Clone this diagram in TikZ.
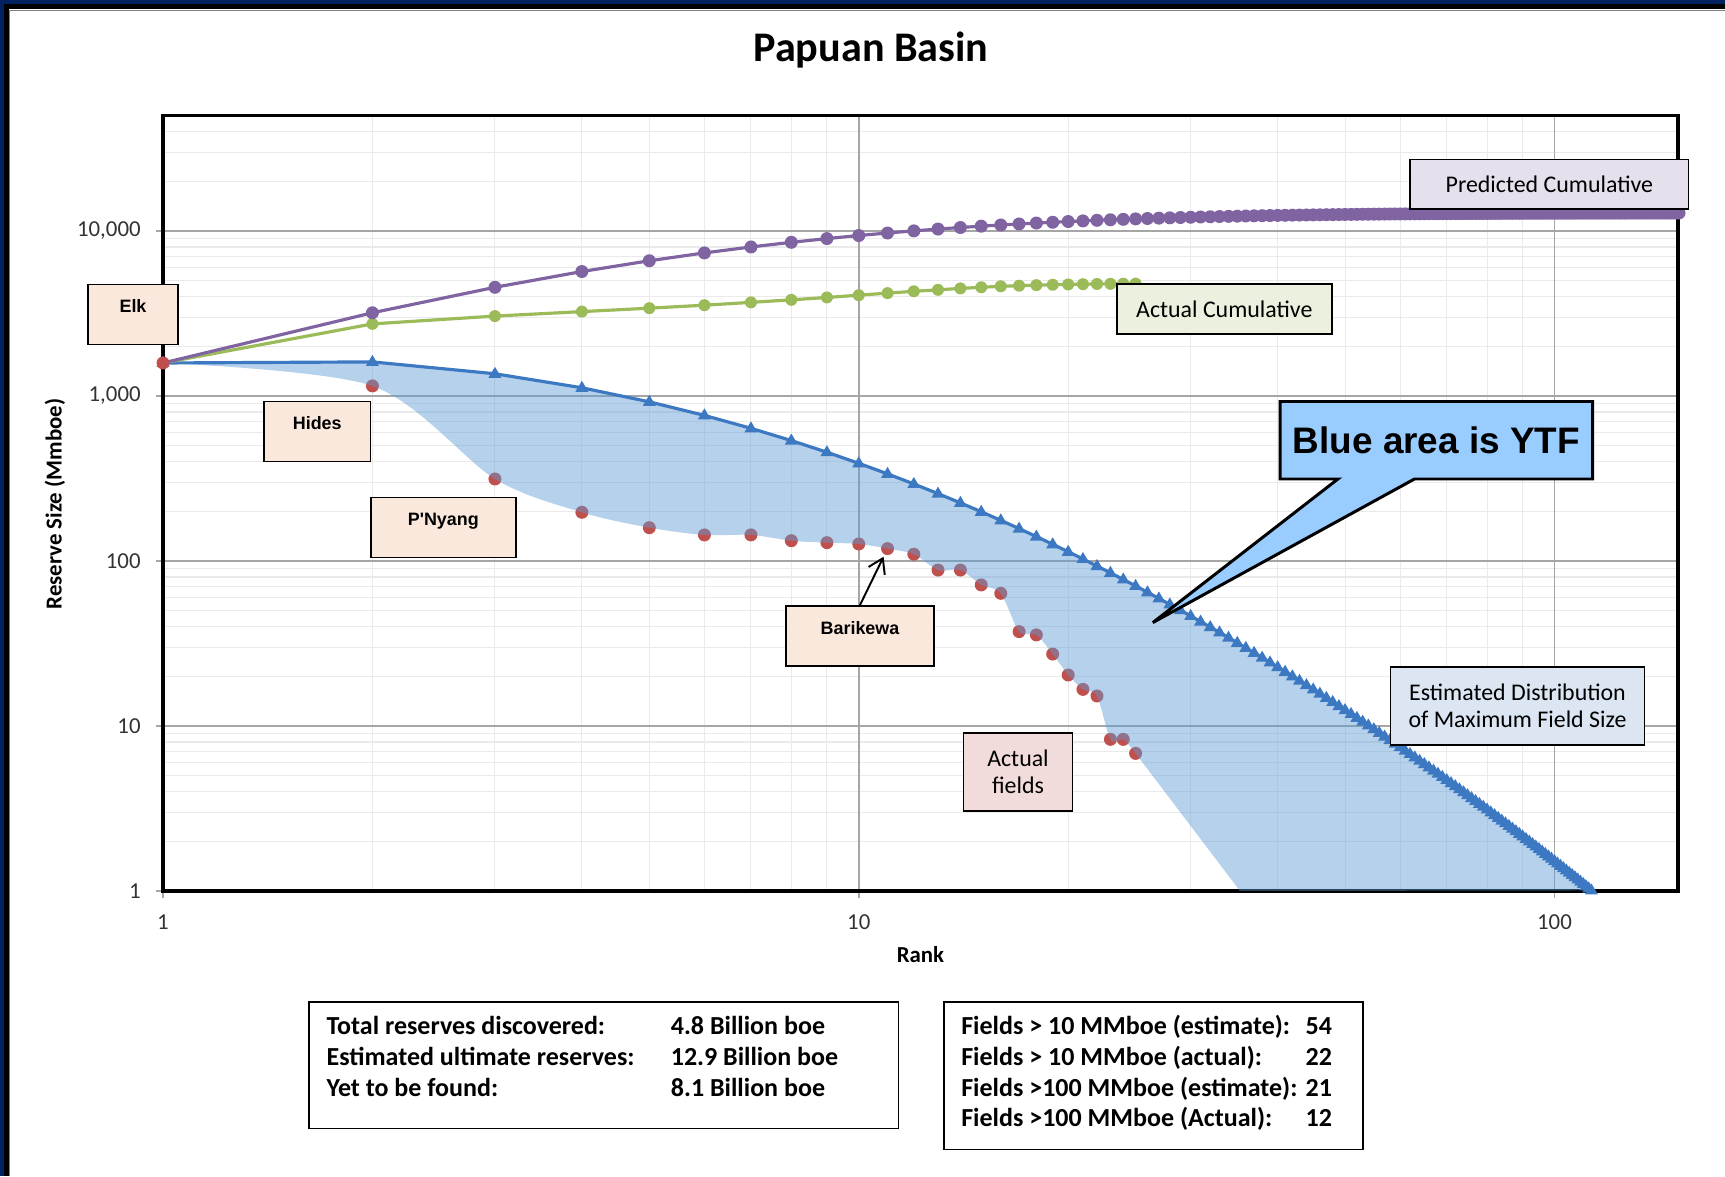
\documentclass[tikz,border=0pt]{standalone}
\usepackage{fontspec}
\setmainfont{Carlito}
\newfontfamily\arialfont{Liberation Sans}
\usepackage{tikz}
\usetikzlibrary{positioning}
\usetikzlibrary{arrows.meta,shapes.callouts}
\definecolor{navy}{RGB}{0,32,96}
\definecolor{minorgray}{RGB}{234,234,234}
\definecolor{majorgray}{RGB}{166,166,166}
\definecolor{predpurple}{RGB}{128,100,162}
\definecolor{actgreen}{RGB}{155,187,89}
\definecolor{fieldred}{RGB}{192,80,77}
\definecolor{distblue}{RGB}{61,121,194}
\definecolor{areablue}{RGB}{91,155,213}
\definecolor{peach}{RGB}{251,232,221}
\definecolor{pinkbox}{RGB}{242,220,219}
\definecolor{greenbox}{RGB}{235,241,222}
\definecolor{purplebox}{RGB}{229,224,236}
\definecolor{bluebox}{RGB}{220,230,242}
\definecolor{calloutblue}{RGB}{153,204,255}
\tikzstyle{gridminor} = [draw,minorgray,line width=0.6pt]
\tikzstyle{gridmajor} = [draw,majorgray,line width=0.9pt]
\tikzstyle{tickmark} = [draw,majorgray,line width=0.9pt]
\tikzstyle{plotframe} = [draw,black,line width=2.2pt]
\tikzstyle{ticklabel} = [text=black!80,font=\fontsize{13pt}{15pt}\selectfont,inner sep=0pt]
\tikzstyle{axistitle} = [font=\bfseries\fontsize{13pt}{15pt}\selectfont]
\tikzstyle{charttitle} = [font=\bfseries\fontsize{24pt}{28pt}\selectfont]
\tikzstyle{serieline} = [draw,line width=1.8pt]
\tikzstyle{fieldbox} = [draw,line width=1.1pt,fill=peach,font=\arialfont\bfseries\fontsize{10.2pt}{12pt}\selectfont,inner ysep=0pt,text height=0.57cm,text depth=0.63cm]
\tikzstyle{labelbox} = [draw,line width=1.1pt,align=center,font=\fontsize{13.6pt}{15.4pt}\selectfont]
\tikzstyle{infobox} = [draw,line width=1.1pt,anchor=north west,inner xsep=0.352cm,inner ysep=0.22cm,font=\bfseries\fontsize{14.8pt}{17.5pt}\selectfont]
\tikzstyle{pointer} = [draw,line width=1.1pt,-{Straight Barb[length=0.28cm,width=0.36cm]},shorten >=0.18cm]
\def\fieldlist{1/3.2,2/3.061,3/2.497,4/2.295,5/2.202,6/2.158,7/2.158,8/2.123,9/2.111,10/2.103,11/2.075,12/2.041,13/1.945,14/1.945,15/1.855,16/1.804,17/1.572,18/1.552,19/1.436,20/1.309,21/1.222,22/1.182,23/0.919,24/0.919,25/0.834}

\begin{document}
\begin{tikzpicture}[declare function={ffs(\x)=3.2+0.2933*\x-0.9013*\x*\x;}]
\useasboundingbox (0,0) rectangle (34.5,23.52);
\fill[white] (0,0) rectangle (34.5,23.52);

% slide frame
\fill[navy] (0,23.43) rectangle (34.5,23.52);
\fill[black] (0,23.33) rectangle (34.5,23.43);
\fill[navy] (0,0) rectangle (0.08,23.52);
\fill[black] (0.08,0) rectangle (0.18,23.33);
\draw[gray,line width=0.5pt] (0.19,0) -- (0.19,23.32) -- (34.5,23.32);

\node[charttitle] (title) at (17.42,22.51) {Papuan Basin};

\begin{scope}[shift={(3.26,5.70)}, x=13.915cm, y=3.3cm]
  \coordinate (plotSW) at (0,0);
  \coordinate (plotNE) at (2.1775,4.70);

  % grid
  \foreach \d/\kmax in {0/9,1/9,2/9,3/9,4/5}
    \foreach \k in {2,...,\kmax}
      \path[gridminor] (0,{\d+log10(\k)}) -- (2.1775,{\d+log10(\k)});
  \foreach \d in {0,1}
    \foreach \k in {2,...,9}
      \path[gridminor] ({\d+log10(\k)},0) -- ({\d+log10(\k)},4.70);
  \foreach \k in {1,...,4}
    \path[gridmajor] (0,\k) -- (2.1775,\k);
  \foreach \k in {1,2}
    \path[gridmajor] (\k,0) -- (\k,4.70);

  \foreach \k/\txt in {0/1,1/10,2/100,3/{1,000},4/{10,000}} {
    \path[tickmark] (0,\k) -- ++(-0.14cm,0);
    \node[ticklabel,anchor=east] (ylab\k) at ([xshift=-0.44cm]0,\k) {\txt};
  }
  \foreach \k/\txt in {0/1,1/10,2/100} {
    \path[tickmark] (\k,0) -- ++(0,-0.14cm);
    \node[ticklabel] (xlab\k) at ([yshift=-0.62cm]\k,0) {\txt};
  }
  \path[plotframe] (plotSW) rectangle (plotNE);

  % actual fields and actual cumulative
  \xdef\cumg{0}
  \foreach \r/\s in \fieldlist {
    \coordinate (f\r) at ({log10(\r)},\s);
    \pgfmathsetmacro{\newg}{\cumg+10^(\s-3)}
    \xdef\cumg{\newg}
    \coordinate (g\r) at ({log10(\r)},{log10(\cumg)+3});
  }
  \foreach \r in {2,...,25}
    \fill[fieldred] (f\r) circle (0.13cm);

  % estimated distribution and predicted cumulative
  \xdef\cumk{0}
  \foreach \r in {1,...,151} {
    \pgfmathsetmacro{\lr}{log10(\r)}
    \pgfmathsetmacro{\newk}{\cumk+10^(ffs(\lr)-3)}
    \xdef\cumk{\newk}
    \coordinate (b\r) at (\lr,{ffs(\lr)});
    \coordinate (p\r) at (\lr,{log10(\cumk)+3});
  }

  % yet to find
  \fill[areablue,opacity=0.45] (b1) \foreach \r in {2,...,113}{ -- (b\r)} -- (1.548,0)
    -- plot[smooth,tension=0.5] coordinates {(f25) (f24) (f23) (f22) (f21) (f20) (f19) (f18) (f17) (f16) (f15) (f14) (f13) (f12) (f11) (f10) (f9) (f8) (f7) (f6) (f5) (f4) (f3) (f2) (f1)} -- cycle;

  \path[serieline,distblue] (b1) \foreach \r in {2,...,113}{ -- (b\r)};
  \foreach \r in {1,...,113}
    \fill[distblue] ([yshift=0.14cm]b\r) -- ++(-0.13cm,-0.22cm) -- ++(0.26cm,0) -- cycle;

  \path[serieline,actgreen] (g1) \foreach \r in {2,...,25}{ -- (g\r)};
  \foreach \r in {2,...,25}
    \fill[actgreen] (g\r) circle (0.12cm);

  \path[serieline,predpurple] (p1) \foreach \r in {2,...,151}{ -- (p\r)};
  \foreach \r in {2,...,151}
    \fill[predpurple] (p\r) circle (0.13cm);

  % Elk sits on top of all series
  \fill[fieldred] (f1) circle (0.13cm);
\end{scope}

\node[axistitle] (ranklabel) at (18.41,4.42) {Rank};
\node[axistitle,rotate=90] (sizelabel) at (1.10,13.44) {Reserve Size (Mmboe)};

% labels
\node[fieldbox,minimum width=1.80cm] (elk) at (2.66,17.23) {Elk};
\node[fieldbox,minimum width=2.13cm] (hides) at (6.345,14.89) {Hides};
\node[fieldbox,minimum width=2.90cm] (pnyang) at (8.866,12.97) {P'Nyang};
\node[fieldbox,minimum width=2.95cm] (barikewa) at (17.20,10.80) {Barikewa};
\path[pointer] (barikewa.north) -- (f11);

\node[labelbox,fill=greenbox,minimum width=4.31cm,minimum height=1.01cm] (actcum) at (24.486,17.338) {Actual Cumulative};
\node[labelbox,fill=purplebox,minimum width=5.566cm,minimum height=0.99cm] (predcum) at (30.987,19.835) {Predicted Cumulative};
\node[labelbox,fill=bluebox,minimum width=5.08cm,minimum height=1.56cm] (estdist) at (30.35,9.407) {Estimated Distribution\\of Maximum Field Size};
\node[labelbox,fill=pinkbox,minimum width=2.18cm,minimum height=1.56cm] (actfields) at (20.36,8.087) {Actual\\fields};

\coordinate (ytftip) at (23.056,11.068);
\node[rectangle callout,draw,line width=1.7pt,fill=calloutblue,minimum width=6.25cm,minimum height=1.55cm,
  callout absolute pointer={(ytftip)},callout pointer width=1.53cm,
  font=\arialfont\bfseries\fontsize{21pt}{24pt}\selectfont] (ytf) at (28.728,14.715) {Blue area is YTF};

% summary
\node[infobox,text depth=1.66cm] (totals) at (6.16,3.50) {\begin{tabular}[t]{@{}p{6.886cm}@{}p{4.2cm}@{}}
Total reserves discovered: & 4.8 Billion boe\\
Estimated ultimate reserves: & 12.9 Billion boe\\
Yet to be found: & 8.1 Billion boe
\end{tabular}};
\node[infobox,text depth=2.08cm] (counts) at (18.854,3.50) {\begin{tabular}[t]{@{}p{6.886cm}@{}r@{\hspace{0.265cm}}}
Fields > 10 MMboe (estimate): & 54\\
Fields > 10 MMboe (actual): & 22\\
Fields >100 MMboe (estimate): & 21\\
Fields >100 MMboe (Actual): & 12
\end{tabular}};

\end{tikzpicture}
\end{document}
